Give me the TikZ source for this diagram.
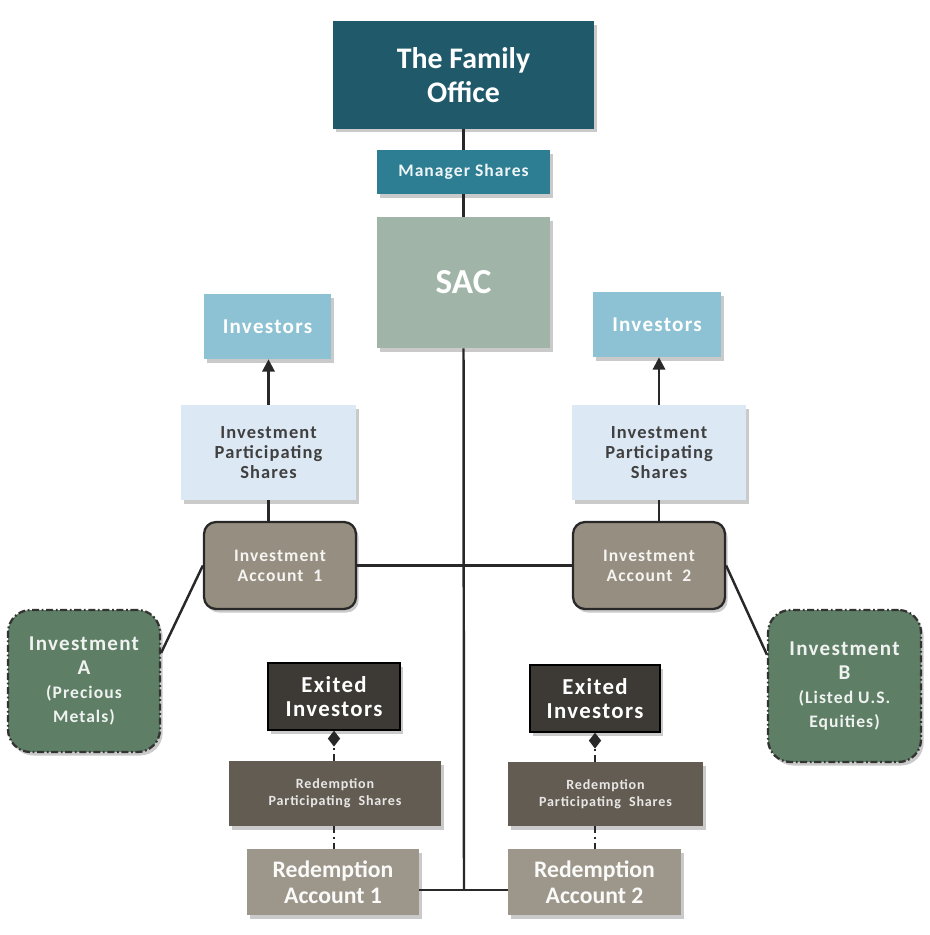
\documentclass[tikz,border=0pt]{standalone}
\usepackage{fontspec}
\setmainfont{Carlito}
\newfontfamily\widefont[LetterSpace=6]{Carlito}
\usetikzlibrary{arrows.meta,shadows}
\definecolor{cFO}{RGB}{31,89,106}
\definecolor{cMS}{RGB}{45,125,147}
\definecolor{cSAC}{RGB}{160,181,168}
\definecolor{cInv}{RGB}{141,194,212}
\definecolor{cIPS}{RGB}{220,232,244}
\definecolor{cIA}{RGB}{150,142,128}
\definecolor{cGrn}{RGB}{94,127,102}
\definecolor{cEI}{RGB}{61,58,53}
\definecolor{cRPS}{RGB}{99,92,83}
\definecolor{cRA}{RGB}{157,151,139}
\definecolor{cLine}{RGB}{40,40,40}
\begin{document}
\begin{tikzpicture}[x=0.02cm,y=-0.02cm,
  box/.style={draw=none,align=center,inner sep=1pt,font=\bfseries,
    drop shadow={shadow xshift=1.5pt,shadow yshift=-2pt,opacity=0.35,fill=black!60}},
  rbox/.style={box,draw=cLine,line width=1.3pt,rounded corners=0.24cm},
  gbox/.style={box,draw=black!80,line width=1.3pt,dash pattern=on 4pt off 1.5pt on 1pt off 1.5pt,rounded corners=0.45cm},
  conn/.style={draw=cLine,line width=1.4pt},
  dconn/.style={conn,dash pattern=on 4pt off 2pt on 1.2pt off 2pt}
]
\useasboundingbox (0,0) rectangle (929,935);

\node[box,fill=cFO,text=white,minimum width=5.22cm,minimum height=2.16cm,font=\bfseries\fontsize{17}{19}\selectfont] (fo) at (463.5,75) {The Family\\Office};
\node[box,fill=cMS,text=white!92!cMS,minimum width=3.46cm,minimum height=0.88cm,font=\widefont\bfseries\fontsize{10}{12}\selectfont] (ms) at (463.5,172) {Manager Shares};
\node[box,fill=cSAC,text=white,minimum width=3.46cm,minimum height=2.62cm,font=\bfseries\fontsize{20}{22}\selectfont] (sac) at (463.5,282.5) {SAC};

\node[box,fill=cInv,text=white,minimum width=2.54cm,minimum height=1.3cm,font=\widefont\bfseries\fontsize{12}{14}\selectfont] (invL) at (267.5,326.5) {Investors};
\node[box,fill=cInv,text=white,minimum width=2.56cm,minimum height=1.3cm,font=\widefont\bfseries\fontsize{12}{14}\selectfont] (invR) at (657,324.5) {Investors};

\node[box,fill=cIPS,text=black!75,minimum width=3.5cm,minimum height=1.9cm,font=\widefont\bfseries\fontsize{10.5}{11.4}\selectfont] (ipsL) at (268.5,452.5) {Investment\\Participating\\Shares};
\node[box,fill=cIPS,text=black!75,minimum width=3.48cm,minimum height=1.9cm,font=\widefont\bfseries\fontsize{10.5}{11.4}\selectfont] (ipsR) at (659,452.5) {Investment\\Participating\\Shares};

\node[rbox,fill=cIA,text=white!90!cIA,minimum width=3.04cm,minimum height=1.74cm,font=\widefont\bfseries\fontsize{10}{11.4}\selectfont] (ia1) at (280,565.5) {Investment\\Account\ \ 1};
\node[rbox,fill=cIA,text=white!90!cIA,minimum width=3.04cm,minimum height=1.74cm,font=\widefont\bfseries\fontsize{10}{11.4}\selectfont] (ia2) at (649,565.5) {Investment\\Account\ \ 2};

\node[gbox,fill=cGrn,text=white!90!cGrn,minimum width=3.04cm,minimum height=2.84cm,font=\widefont\bfseries\fontsize{12}{13.5}\selectfont] (ivA) at (84,681)
  {Investment\\A\\\fontsize{10}{11.5}\selectfont (Precious\\\fontsize{10}{11.5}\selectfont Metals)};
\node[gbox,fill=cGrn,text=white!90!cGrn,minimum width=3.06cm,minimum height=3.04cm,font=\widefont\bfseries\fontsize{12}{13.5}\selectfont] (ivB) at (844.5,686)
  {Investment\\B\\\fontsize{10}{11.5}\selectfont (Listed U.S.\\\fontsize{10}{11.5}\selectfont Equities)};

\node[box,fill=cEI,draw=black,line width=0.8pt,text=white,minimum width=2.64cm,minimum height=1.34cm,font=\widefont\bfseries\fontsize{13}{13.5}\selectfont] (ei1) at (334,696.5) {Exited\\Investors};
\node[box,fill=cEI,draw=black,line width=0.8pt,text=white,minimum width=2.6cm,minimum height=1.34cm,font=\widefont\bfseries\fontsize{13}{13.5}\selectfont] (ei2) at (595,698.5) {Exited\\Investors};

\node[box,fill=cRPS,text=white!85!cRPS,minimum width=4.24cm,minimum height=1.3cm,font=\widefont\bfseries\fontsize{8}{9.5}\selectfont] (rps1) at (335,793.5) {Redemption\\Participating\ \ Shares};
\node[box,fill=cRPS,text=white!85!cRPS,minimum width=3.9cm,minimum height=1.28cm,font=\widefont\bfseries\fontsize{8}{9.5}\selectfont] (rps2) at (605.5,794) {Redemption\\Participating\ \ Shares};

\node[box,fill=cRA,text=white!95!cRA,minimum width=3.44cm,minimum height=1.32cm,font=\bfseries\fontsize{13.5}{14.8}\selectfont] (ra1) at (333,882) {Redemption\\Account\ 1};
\node[box,fill=cRA,text=white!95!cRA,minimum width=3.46cm,minimum height=1.32cm,font=\bfseries\fontsize{13.5}{14.8}\selectfont] (ra2) at (594.5,882) {Redemption\\Account\ 2};

\coordinate (j) at (464,890);

% connectors
\draw[conn] (fo.south) -- (ms.north);
\draw[conn] (ms.south) -- (sac.north);
\draw[conn] (sac.south) -- (j);
\draw[conn] (ra1.east |- j) -- (ra2.west |- j);
\draw[conn] (ia1.east) -- (ia2.west);
\draw[conn] (ipsL.south) -- (ipsL.south |- ia1.north);
\draw[conn] (ipsR.south) -- (ipsR.south |- ia2.north);
\draw[conn,-{Triangle[length=7pt,width=7pt]}] (ipsL.north) -- (ipsL.north |- invL.south);
\draw[conn,-{Triangle[length=7pt,width=7pt]}] (ipsR.north) -- (ipsR.north |- invR.south);
\draw[conn] (ia1.west) -- (ivA.20);
\draw[conn] (ia2.east) -- (ivB.158);
\draw[dconn,-{Diamond[length=9pt,width=7pt]}] (rps1.north -| ei1.south) -- (ei1.south);
\draw[dconn,-{Diamond[length=9pt,width=7pt]}] (rps2.north -| ei2.south) -- (ei2.south);
\draw[dconn] (rps1.south -| ei1.south) -- (ra1.north -| ei1.south);
\draw[dconn] (rps2.south -| ei2.south) -- (ra2.north -| ei2.south);
\end{tikzpicture}
\end{document}
